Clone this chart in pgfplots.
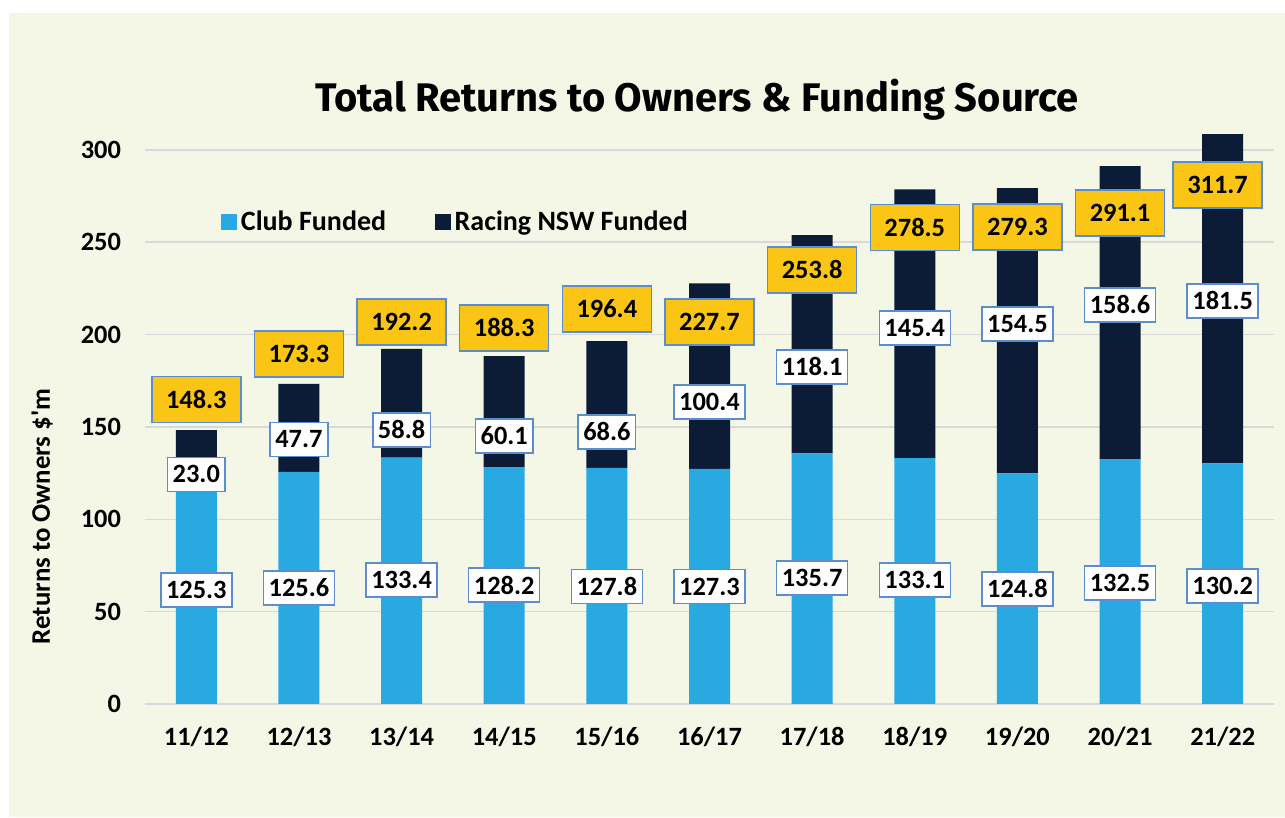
\documentclass[border=0pt]{standalone}
\usepackage{fontspec}
\setmainfont{Carlito}
\newfontfamily\titlefont{Fira Sans}
\usepackage{pgfplots}
\pgfplotsset{compat=1.18}
\definecolor{bgc}{HTML}{F4F7E6}
\definecolor{clubc}{HTML}{29A9E1}
\definecolor{navyc}{HTML}{0C1C36}
\definecolor{yelc}{HTML}{FAC515}
\definecolor{boxc}{HTML}{5B8FCB}
\definecolor{gridc}{HTML}{D9D9D9}

\pgfplotstableread{
x club racing
0 125.3 23.0
1 125.6 47.7
2 133.4 58.8
3 128.2 60.1
4 127.8 68.6
5 127.3 100.4
6 135.7 118.1
7 133.1 145.4
8 124.8 154.5
9 132.5 158.6
10 130.2 181.5
}\datatable

\begin{document}
\begin{tikzpicture}
\path[use as bounding box] (0,0) rectangle (642.5pt,409pt);
\fill[white] (0,0) rectangle (642.5pt,409pt);
\fill[bgc] (4.5pt,0.5pt) rectangle (642.5pt,402.5pt);

\node[anchor=base, font={\titlefont\fontsize{19.95}{24}\selectfont\bfseries}] at (348.5pt,353.2pt) {Total Returns to Owners \& Funding Source};

\begin{axis}[
  at={(72.5pt,57pt)}, anchor=south west,
  scale only axis, width=564.5pt, height=284.5pt,
  xmin=-0.5, xmax=10.5, ymin=0, ymax=308,
  ybar stacked, bar width=20.5pt,
  axis line style={draw=none}, tick style={draw=none},
  ymajorgrids, major grid style={gridc, line width=0.75pt},
  ytick={0,50,...,300},
  xtick={0,...,10},
  xticklabels={11/12,12/13,13/14,14/15,15/16,16/17,17/18,18/19,19/20,20/21,21/22},
  /pgf/number format/assume math mode=true,
  ticklabel style={font=\fontsize{13.2}{15}\selectfont\bfseries},
  yticklabel style={xshift=-8.5pt},
  xticklabel style={yshift=-8pt},
  ylabel={Returns to Owners \$\textquotesingle m},
  ylabel style={at={(axis description cs:-0.0912,0.3295)}, anchor=center, rotate=0, font=\fontsize{13.4}{15}\selectfont\bfseries},
  legend columns=2,
  legend style={at={(axis description cs:0.0673,0.847)}, anchor=west, draw=none, fill=none,
    inner sep=0pt, font=\fontsize{14}{16}\selectfont\bfseries,
    /tikz/every even column/.append style={column sep=22.5pt}},
  legend image code/.code={\fill[#1] (0pt,-3.9pt) rectangle (7.8pt,3.9pt);},
]
\addplot[fill=clubc, draw=none] table[x=x, y=club] {\datatable};
\addlegendentry{Club Funded}
\addplot[fill=navyc, draw=none] table[x=x, y=racing] {\datatable};
\addlegendentry{Racing NSW Funded}
\end{axis}

\begin{axis}[
  at={(72.5pt,57pt)}, anchor=south west,
  scale only axis, width=564.5pt, height=284.5pt,
  xmin=-0.5, xmax=10.5, ymin=0, ymax=308,
  hide axis, clip=false,
  nodes near coords, point meta=explicit symbolic,
  nodes near coords align={center},
]
\addplot[draw=none, mark=none,
  every node near coord/.append style={anchor=center, fill=white, draw=boxc, line width=0.75pt,
    inner xsep=2.6pt, inner ysep=0pt, minimum height=17pt, text=black,
    font=\fontsize{13.2}{15}\selectfont\bfseries}]
coordinates {
(0,61.7) [125.3]
(1,62.8) [125.6]
(2,67.1) [133.4]
(3,64.4) [128.2]
(4,63.6) [127.8]
(5,63.5) [127.3]
(6,68.2) [135.7]
(7,67.1) [133.1]
(8,62.3) [124.8]
(9,65.5) [132.5]
(10,63.9) [130.2]
};
\addplot[draw=none, mark=none,
  every node near coord/.append style={anchor=center, fill=white, draw=boxc, line width=0.75pt,
    inner xsep=2.6pt, inner ysep=0pt, minimum height=17pt, text=black,
    font=\fontsize{13.2}{15}\selectfont\bfseries}]
coordinates {
(0,124.3) [23.0]
(1,143.2) [47.7]
(2,148.4) [58.8]
(3,145.1) [60.1]
(4,147.3) [68.6]
(5,163.5) [100.4]
(6,182.5) [118.1]
(7,203.6) [145.4]
(8,205.8) [154.5]
(9,216.1) [158.6]
(10,218.2) [181.5]
};
\addplot[draw=none, mark=none,
  every node near coord/.append style={anchor=center, fill=yelc, draw=boxc, line width=0.75pt,
    inner xsep=2pt, inner ysep=0pt, minimum height=23pt, minimum width=44.5pt, text=black,
    font=\fontsize{13.2}{15}\selectfont\bfseries}]
coordinates {
(0,164.9) [148.3]
(1,189.5) [173.3]
(2,206.9) [192.2]
(3,203.6) [188.3]
(4,213.9) [196.4]
(5,206.9) [227.7]
(6,235.0) [253.8]
(7,257.8) [278.5]
(8,258.3) [279.3]
(9,265.9) [291.1]
(9.95,281.0) [311.7]
};
\end{axis}
\end{tikzpicture}
\end{document}
